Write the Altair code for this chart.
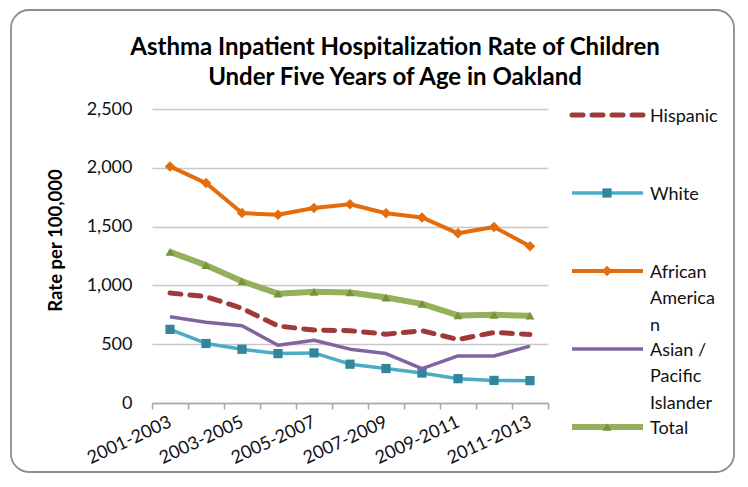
import altair as alt
import pandas as pd

title_lines = "Asthma Inpatient Hospitalization Rate of Children\nUnder Five Years of Age in Oakland"

periods = ["2001-2003", "2002-2004", "2003-2005", "2004-2006", "2005-2007", "2006-2008",
           "2007-2009", "2008-2010", "2009-2011", "2010-2012", "2011-2013"]
shown_labels = ["2001-2003", "2003-2005", "2005-2007", "2007-2009", "2009-2011", "2011-2013"]

hispanic = [935, 905, 805, 655, 620, 615, 585, 615, 540, 600, 583]
white = [626, 506, 457, 420, 426, 330, 293, 255, 207, 192, 190]
african_american = [2012, 1870, 1615, 1600, 1658, 1690, 1614, 1578, 1443, 1497, 1332]
asian_pi = [733, 686, 657, 491, 534, 458, 420, 292, 400, 400, 484]
total = [1285, 1172, 1035, 930, 945, 940, 897, 843, 745, 750, 742]

series_names = ["Hispanic", "White", "African American", "Asian / Pacific Islander", "Total"]
legend_labels = ["Hispanic", "White", "African\nAmerica\nn", "Asian /\nPacific\nIslander", "Total"]
series_values = [hispanic, white, african_american, asian_pi, total]

y_ticks = [0, 500, 1000, 1500, 2000, 2500]

# styles
styles = {
    "Hispanic": dict(color="#a0393a", width=5, dash=[11, 9], shape=None, mcolor=None, msize=0),
    "White": dict(color="#4bacc6", width=3.5, dash=None, shape="square", mcolor="#31859c", msize=85),
    "African American": dict(color="#e46c0a", width=4, dash=None, shape="diamond", mcolor="#e46c0a", msize=110),
    "Asian / Pacific Islander": dict(color="#8064a2", width=3.5, dash=None, shape=None, mcolor=None, msize=0),
    "Total": dict(color="#93b05a", width=6, dash=None, shape="triangle-up", mcolor="#77933c", msize=80),
}

rows = []
for name, vals in zip(series_names, series_values):
    for p, v in zip(periods, vals):
        rows.append({"series": name, "period": p, "rate": v})
df = pd.DataFrame(rows)

legend_df = pd.DataFrame({"series": series_names, "label": legend_labels})

FONT = "Lato"
TXT = "#111111"
base = alt.Chart(df)

x_enc = alt.X("period:N", sort=periods,
              scale=alt.Scale(type="band", paddingInner=0, paddingOuter=0),
              axis=alt.Axis(title=None, tickBand="extent", labelAngle=335,
                            labelAlign="right", labelBaseline="middle", labelPadding=12,
                            labelExpr="indexof(" + str(shown_labels) + ", datum.label) >= 0 ? datum.label : ''",
                            labelFontSize=18, labelColor=TXT, labelFont=FONT,
                            domainColor="#a6a6a6", domainWidth=1.5, tickColor="#a6a6a6",
                            tickSize=6, tickWidth=1.5, grid=False, labelOverlap=False))

y_scale = alt.Scale(domain=[0, 2500], nice=False)
y_axis = alt.Axis(values=y_ticks, format=",d", grid=True, gridColor="#c8c8c8", gridWidth=1.5,
                  domain=False, ticks=False, labelPadding=20, labelFontSize=18,
                  labelColor=TXT, labelFont=FONT,
                  title="Rate per 100,000", titleFontSize=18.5, titleFontWeight="bold",
                  titleFont=FONT, titleColor="#000000", titleAngle=270, titleAlign="center",
                  titleBaseline="middle", titleX=-97, titleY=131)
y_enc = alt.Y("rate:Q", scale=y_scale, axis=y_axis)

main_layers = []
for name in series_names:
    st = styles[name]
    line_kwargs = dict(color=st["color"], strokeWidth=st["width"], strokeJoin="round")
    if st["dash"]:
        line_kwargs["strokeDash"] = st["dash"]
        line_kwargs["strokeCap"] = "round"
    sub = base.transform_filter(alt.datum.series == name)
    main_layers.append(sub.mark_line(**line_kwargs).encode(x=x_enc, y=y_enc))
    if st["shape"]:
        main_layers.append(sub.mark_point(filled=True, opacity=1, shape=st["shape"],
                                          size=st["msize"], color=st["mcolor"]).encode(
            x=x_enc, y=y_enc))

main = alt.layer(*main_layers)

# legend + border + title
lbase = alt.Chart(legend_df)
ly = alt.Y("series:N", sort=series_names,
           scale=alt.Scale(type="point", range=[6, 318], padding=0), axis=None)

one = pd.DataFrame({"t": [title_lines]})
border = alt.Chart(one).mark_rect(
    fill=None, stroke="#8c8c8c", strokeWidth=1.8, cornerRadius=18
).encode(x=alt.value(-141), x2=alt.value(582), y=alt.value(-99), y2=alt.value(363))

title = alt.Chart(one).mark_text(
    align="center", baseline="alphabetic", fontSize=24, fontWeight="bold", font=FONT,
    color="#000000", lineBreak="\n", lineHeight=30
).encode(x=alt.value(243), y=alt.value(-54), text="t:N")

legend_layers = [border, title]
for name in series_names:
    st = styles[name]
    rk = dict(color=st["color"], strokeWidth=st["width"], strokeCap="round" if st["dash"] else "butt")
    if st["dash"]:
        rk["strokeDash"] = st["dash"]
    sub = lbase.transform_filter(alt.datum.series == name)
    legend_layers.append(sub.mark_rule(**rk).encode(y=ly, x=alt.value(420), x2=alt.value(491)))
    if st["shape"]:
        legend_layers.append(sub.mark_point(filled=True, opacity=1, shape=st["shape"],
                                            size=st["msize"], color=st["mcolor"]).encode(
            y=ly, x=alt.value(455)))

legend_layers.append(lbase.mark_text(align="left", baseline="alphabetic", dy=6.5, fontSize=18,
                                     font=FONT, lineBreak="\n", lineHeight=26.7,
                                     color=TXT).encode(
    y=ly, x=alt.value(498), text="label:N"))

legend = alt.layer(*legend_layers)

chart = alt.layer(main, legend).resolve_scale(y="independent", x="independent").properties(
    width=396, height=294,
    autosize=alt.AutoSizeParams(type="none"),
    padding={"left": 144, "top": 101, "right": 190, "bottom": 71},
).configure_view(stroke=None)

chart.save("out.html", embed_options={"renderer": "svg", "actions": False})
